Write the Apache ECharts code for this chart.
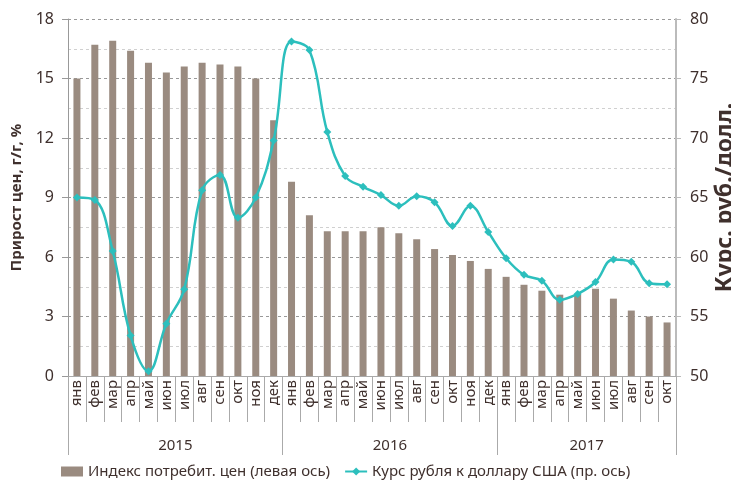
<!DOCTYPE html>
<html>
<head>
<meta charset="utf-8">
<script src="https://cdn.jsdelivr.net/npm/echarts@6/dist/echarts.min.js"></script>
<style>
  html, body { margin: 0; padding: 0; background: #fff; }
  #chart { width: 731px; height: 486px; }
</style>
</head>
<body>
<div id="chart"></div>
<script>
const months = [
  'янв', 'фев', 'мар', 'апр', 'май', 'июн', 'июл', 'авг', 'сен', 'окт', 'ноя', 'дек',
  'янв', 'фев', 'мар', 'апр', 'май', 'июн', 'июл', 'авг', 'сен', 'окт', 'ноя', 'дек',
  'янв', 'фев', 'мар', 'апр', 'май', 'июн', 'июл', 'авг', 'сен', 'окт',
]
const years = ['2015', '2016', '2017']
// index where each year starts, and the index that carries its label
const yearStart = [0, 12, 24]
const yearLabelAt = [5, 17, 28]

const cpi = [
  15.0, 16.7, 16.9, 16.4, 15.8, 15.3, 15.6, 15.8, 15.7, 15.6, 15.0, 12.9,
  9.8, 8.1, 7.3, 7.3, 7.3, 7.5, 7.2, 6.9, 6.4, 6.1, 5.8, 5.4,
  5.0, 4.6, 4.3, 4.1, 4.1, 4.4, 3.9, 3.3, 3.0, 2.7,
]
const usdRub = [
  65.0, 64.8, 60.5, 53.4, 50.4, 54.4, 57.3, 65.6, 66.9, 63.3, 65.0, 69.8,
  78.1, 77.4, 70.5, 66.8, 65.9, 65.2, 64.3, 65.1, 64.6, 62.6, 64.3, 62.1,
  59.9, 58.5, 58.0, 56.4, 56.9, 57.9, 59.8, 59.6, 57.8, 57.7,
]

const textColor = '#3f302d'
const font = 'Noto Sans'

const chart = echarts.init(document.getElementById('chart'))

const yearLabels = months.map((m, i) => {
  const k = yearLabelAt.indexOf(i)
  return k >= 0 ? years[k] : ''
})

chart.setOption({
  animation: false,
  textStyle: { fontFamily: font, color: textColor },
  grid: { left: 68, right: 55, top: 19, bottom: 110, outerBoundsMode: 'none', containLabel: false },
  legend: {
    bottom: 2,
    left: 56,
    itemGap: 14,
    itemWidth: 22,
    itemHeight: 10,
    textStyle: { fontSize: 15, color: textColor, fontFamily: font },
    data: [
      { name: 'Индекс потребит. цен (левая ось)', icon: 'rect' },
      { name: 'Курс рубля к доллару США (пр. ось)' },
    ],
  },
  xAxis: [
    {
      type: 'category',
      data: months,
      axisLine: { lineStyle: { color: '#aaa', width: 1 } },
      axisTick: {
        show: true,
        interval: 0,
        alignWithLabel: false,
        length: 46,
        lineStyle: { color: '#aaa', width: 1 },
      },
      axisLabel: {
        rotate: 90,
        interval: 0,
        fontSize: 15,
        color: textColor,
        margin: 4,
      },
    },
    {
      type: 'category',
      data: yearLabels,
      position: 'bottom',
      axisLine: { show: false },
      axisTick: {
        show: true,
        alignWithLabel: false,
        length: 79,
        interval: (i) => yearStart.includes(i),
        lineStyle: { color: '#aaa', width: 1 },
      },
      axisLabel: {
        interval: (i) => yearLabelAt.includes(i),
        fontSize: 15,
        color: textColor,
        margin: 62,
        padding: [0, 0, 0, 18],
      },
    },
  ],
  yAxis: [
    {
      type: 'value',
      min: 0,
      max: 18,
      interval: 3,
      name: 'Прирост цен, г/г, %',
      nameLocation: 'middle',
      nameGap: 44,
      nameTextStyle: { fontSize: 15, fontWeight: 'bold', color: textColor },
      axisLine: { show: true, lineStyle: { color: '#999' } },
      axisTick: { show: true, length: 6, lineStyle: { color: '#999' } },
      axisLabel: { fontSize: 16, color: textColor, margin: 14 },
      splitLine: { lineStyle: { color: '#999', type: [3, 3] } },
      minorTick: { show: false, splitNumber: 2 },
      minorSplitLine: { show: true, lineStyle: { color: '#d0d0d0', type: [3, 3] } },
    },
    {
      type: 'value',
      min: 50,
      max: 80,
      interval: 5,
      name: 'Курс. руб./долл.',
      nameLocation: 'middle',
      nameRotate: 90,
      nameGap: 38,
      nameMoveOverlap: false,
      nameTextStyle: { fontSize: 23, fontWeight: 'bold', color: textColor },
      axisLine: { show: true, lineStyle: { color: '#bbb', width: 2 } },
      axisTick: { show: true, length: 5, lineStyle: { color: '#bbb' } },
      axisLabel: { fontSize: 16, color: textColor, margin: 14 },
      splitLine: { show: false },
    },
  ],
  series: [
    {
      name: 'Индекс потребит. цен (левая ось)',
      type: 'bar',
      data: cpi,
      barWidth: 7,
      itemStyle: { color: '#9a8b80' },
    },
    {
      name: 'Курс рубля к доллару США (пр. ось)',
      type: 'line',
      yAxisIndex: 1,
      data: usdRub,
      smooth: 0.4,
      symbol: 'diamond',
      symbolSize: 8,
      lineStyle: { color: '#2cbfbd', width: 2.5 },
      itemStyle: { color: '#2cbfbd' },
    },
  ],
})
</script>
</body>
</html>
